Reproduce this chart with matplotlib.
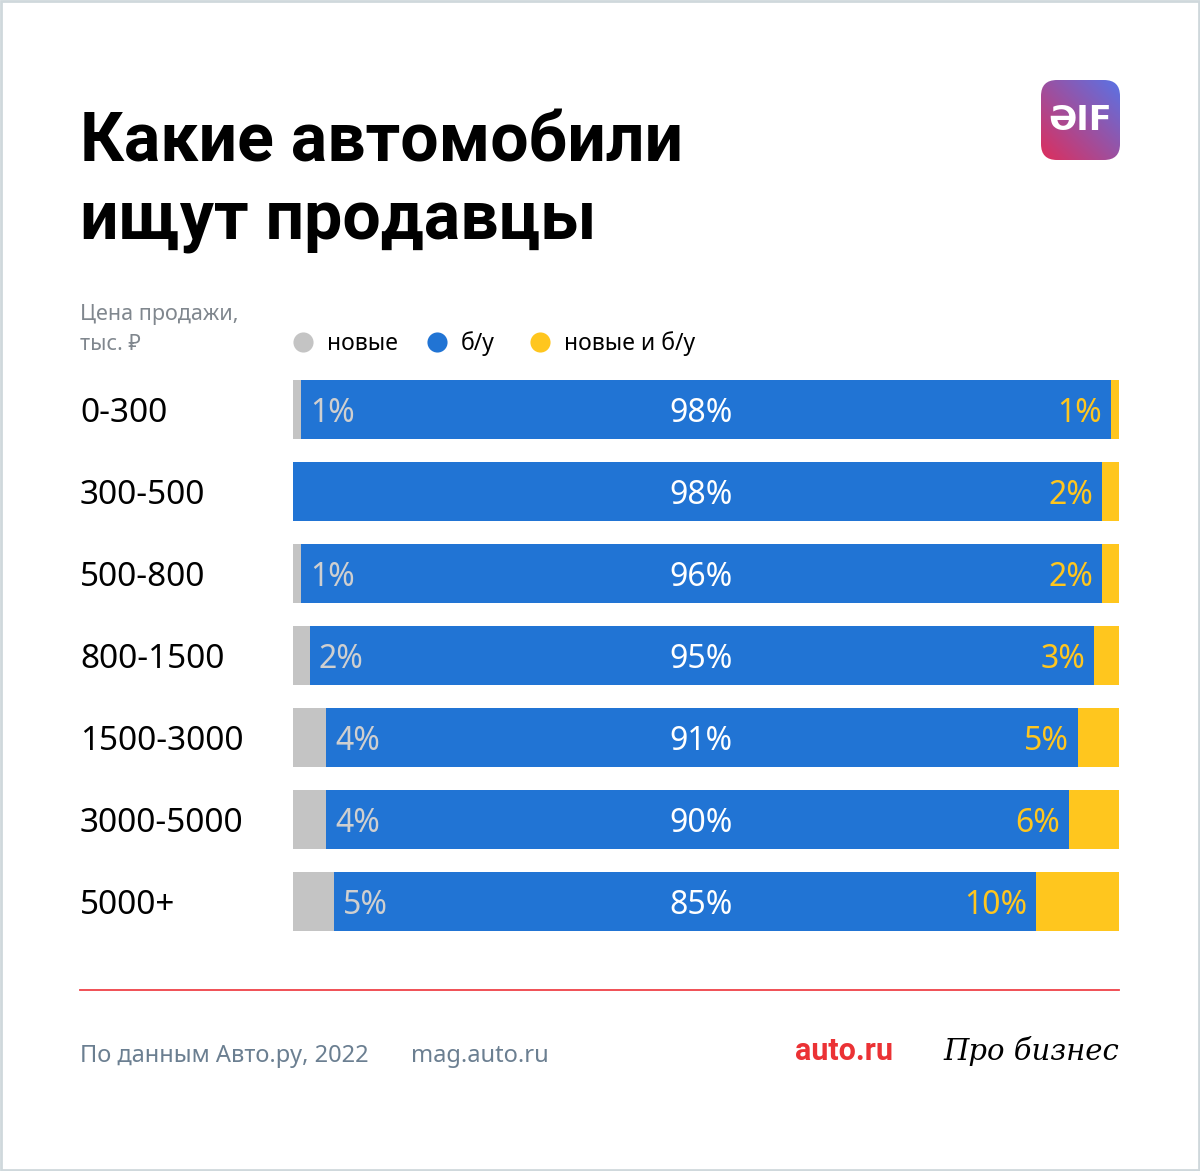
import numpy as np
import matplotlib.pyplot as plt
from matplotlib.patches import FancyBboxPatch, Rectangle

# data
price_ranges = ["0-300", "300-500", "500-800", "800-1500", "1500-3000", "3000-5000", "5000+"]
new_share = [1, 0, 1, 2, 4, 4, 5]
used_share = [98, 98, 96, 95, 91, 90, 85]
both_share = [1, 2, 2, 3, 5, 6, 10]
legend_labels = ["новые", "б/у", "новые и б/у"]

GRAY = "#c4c4c4"
BLUE = "#2174d4"
YELLOW = "#ffc61e"
GRAY_TXT = "#cfcfcf"
FOOT = "#6b7f91"

plt.rcParams["font.family"] = ["Noto Sans", "DejaVu Sans"]

W, H = 1200, 1171
fig = plt.figure(figsize=(W / 100, H / 100), dpi=100)


def fy(y):
    return 1 - y / H


# bar axes in pixel-derived figure coords
top, bottom = 368, 942
ax = fig.add_axes([293 / W, fy(bottom), 826 / W, (bottom - top) / H])
n = len(price_ranges)
pos = np.arange(n)
tot = np.array(new_share) + np.array(used_share) + np.array(both_share)
g = np.array(new_share) / tot * 100
b = np.array(used_share) / tot * 100
yv = np.array(both_share) / tot * 100
h = 59 / 82
ax.barh(pos, g, height=h, color=GRAY)
ax.barh(pos, b, left=g, height=h, color=BLUE)
ax.barh(pos, yv, left=g + b, height=h, color=YELLOW)
off = 12.5 / 82
for i in range(n):
    if new_share[i]:
        ax.text(g[i] + 1.1, i + off, f"{new_share[i]}%", color=GRAY_TXT, fontsize=23,
                ha="left", va="baseline")
    ax.text(49.4, i + off, f"{used_share[i]}%", color="white", fontsize=23,
            ha="center", va="baseline")
    ax.text(100 - yv[i] - 1.1, i + off, f"{both_share[i]}%", color=YELLOW, fontsize=23,
            ha="right", va="baseline")
ax.set_xlim(0, 100)
ax.set_ylim(n - 0.5, -0.5)
ax.axis("off")

# overlay in pixel coords
ov = fig.add_axes([0, 0, 1, 1], zorder=-1)
ov.set_xlim(0, W)
ov.set_ylim(H, 0)
ov.axis("off")

ov.add_patch(Rectangle((1, 1), W - 2, H - 2, fill=False, ec="#cfd8dc", lw=2))

ov.text(80, 161, "Какие автомобили", fontsize=49, fontweight="bold", color="black",
        ha="left", va="baseline", family="Roboto")
ov.text(80, 240, "ищут продавцы", fontsize=49, fontweight="bold", color="black",
        ha="left", va="baseline", family="Roboto")

# logo
grad = np.linspace(0, 1, 100)
gx, gy = np.meshgrid(grad, grad)
t = (gx + (1 - gy)) / 2
c1 = np.array([0.87, 0.18, 0.36])
c2 = np.array([0.35, 0.45, 0.90])
img = c1 + (c2 - c1) * t[..., None]
logo = FancyBboxPatch((1041, 80), 79, 80, boxstyle="round,pad=0,rounding_size=16",
                      fc="none", ec="none")
ov.add_patch(logo)
im = ov.imshow(img, extent=(1041, 1120, 160, 80), zorder=2)
im.set_clip_path(logo)
ov.set_xlim(0, W)
ov.set_ylim(H, 0)
ov.text(1080, 121, "ƏIF", color="white", fontsize=24, ha="center", va="center",
        zorder=3, family="DejaVu Sans", fontweight="bold")

# header and legend
ov.text(80, 320, "Цена продажи,", fontsize=15.5, color="#80878e", va="baseline")
ov.text(80, 350, "тыс. ₽", fontsize=15.5, color="#80878e", va="baseline")
leg_x = [303, 437, 540]
for x, lab, c in zip(leg_x, legend_labels, [GRAY, BLUE, YELLOW]):
    ov.scatter([x], [342], s=210, color=c, zorder=3, linewidths=0)
    ov.text(x + 24, 350, lab, fontsize=16.5, color="black", va="baseline")

# row labels
for i, lab in enumerate(price_ranges):
    ov.text(80, 422 + 82 * i, lab, fontsize=24, color="black", va="baseline")

# footer
ov.plot([80, 1119], [990, 990], color="#ef4148", lw=1.3)
ov.text(80, 1062, "По данным Авто.ру, 2022", fontsize=17, color=FOOT, va="baseline")
ov.text(411, 1062, "mag.auto.ru", fontsize=17, color=FOOT, va="baseline")
ov.text(795, 1060, "auto.ru", fontsize=22, fontweight="bold", color="#eb3235",
        va="baseline", family="Roboto")
ov.text(1119, 1060, "Про бизнес", fontsize=21, style="italic", color="black",
        va="baseline", ha="right", family="DejaVu Serif")

fig.savefig("out.png", dpi=100, facecolor="white")
